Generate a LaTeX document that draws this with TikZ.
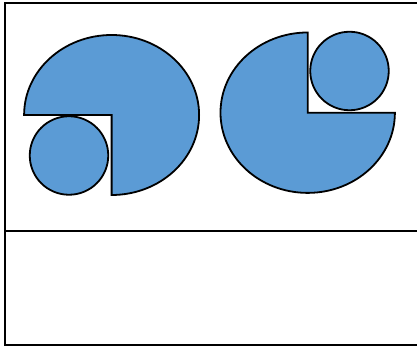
\documentclass[tikz,border=0pt]{standalone}
\definecolor{pieBlue}{RGB}{91,155,213}
\begin{document}
\begin{tikzpicture}[
  x=1pt, y=1pt,
  pieShape/.style  ={draw=black, fill=pieBlue, line width=1.8pt, line join=miter},
  ballShape/.style ={circle, draw=black, fill=pieBlue, line width=1.8pt, minimum size=78.5pt, inner sep=0pt},
  frameLine/.style ={draw=black, line width=1.8pt}
]
\useasboundingbox (0,0) rectangle (417,350);
\clip (0,0) rectangle (417,350);

% ================== FRAME ==================
\draw[frameLine] (5.3,347.3) rectangle (425,4.7);
\draw[frameLine] (5.3,119.3) -- (425,119.3);

% ================== LEFT PIE (gap at bottom left) ==================
\coordinate (leftCorner) at (111.6,235);
\draw[pieShape] (leftCorner) -- ++(0,-80) arc[start angle=-90, end angle=180, x radius=87.5, y radius=80] -- cycle;
\node[ballShape] (leftBall) at (69,194.5) {};

% ================== RIGHT PIE (gap at top right) ==================
\coordinate (rightCorner) at (307.7,237.3);
\draw[pieShape] (rightCorner) -- ++(0,80.2) arc[start angle=90, end angle=360, x radius=87.2, y radius=80.2] -- cycle;
\node[ballShape] (rightBall) at (349.5,279) {};

\end{tikzpicture}
\end{document}
